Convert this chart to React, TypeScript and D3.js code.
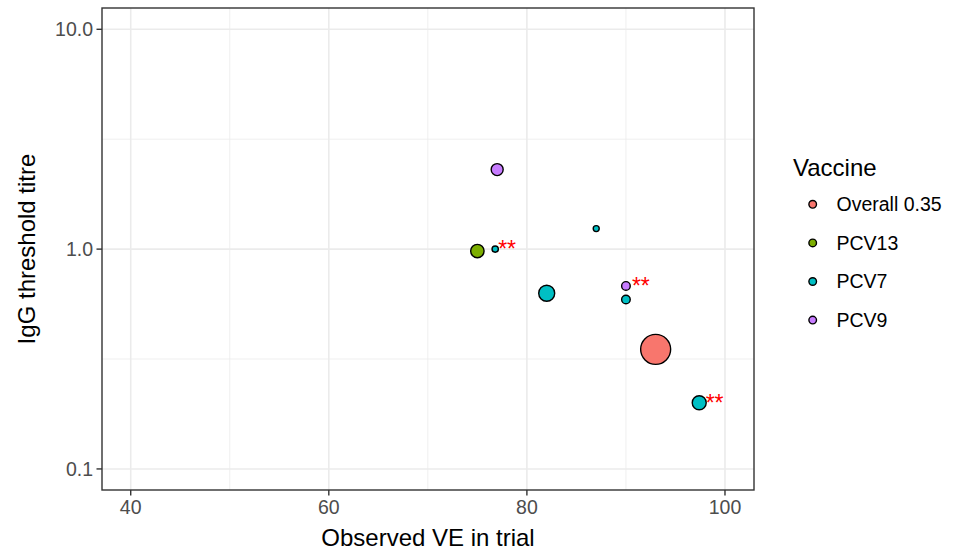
import React from 'react';
import * as d3 from 'd3';

const vaccines = ['Overall 0.35', 'PCV13', 'PCV7', 'PCV9'];
const vaccineColors = ['#F8766D', '#7CAE00', '#00BFC4', '#C77CFF'];

const pointVaccine = ['PCV9', 'PCV13', 'PCV7', 'PCV7', 'PCV7', 'PCV9', 'PCV7', 'Overall 0.35', 'PCV7'];
const pointVE = [77.0, 75.0, 76.8, 87.0, 82.0, 90.0, 90.0, 93.0, 97.4];
const pointIgG = [2.3, 0.98, 1.0, 1.24, 0.63, 0.68, 0.59, 0.35, 0.2];
const pointWeight = [36, 45, 10, 9, 64, 18.5, 18.5, 225, 49];

const starVE = [77.1, 90.6, 98.05];
const starIgG = [1.0, 0.68, 0.2];
const starText = ['**', '**', '**'];

const xTicks = [40, 60, 80, 100];
const xMinor = [50, 70, 90];
const yTicks = [0.1, 1, 10];
const yTickLabels = ['0.1', '1.0', '10.0'];
const yMinor = [Math.sqrt(0.1 * 1), Math.sqrt(1 * 10)];

const W = 954, H = 550;
const panel = { left: 102, right: 754, top: 8, bottom: 490 };
const font = '"Liberation Sans", Arial, Helvetica, sans-serif';

export default function App() {
  const x = d3.scaleLinear().domain([37.1, 102.93]).range([panel.left, panel.right]);
  const y = d3.scaleLog().domain([0.0802, 12.5]).range([panel.bottom, panel.top]);
  const r = d3.scaleSqrt().domain([0, 225]).range([0, 15]);
  const color = d3.scaleOrdinal<string, string>().domain(vaccines).range(vaccineColors);
  const pw = panel.right - panel.left, ph = panel.bottom - panel.top;

  return (
    <svg width={W} height={H} style={{ position: 'absolute', left: 0, top: 0, background: '#fff' }} fontFamily={font}>
      <rect x={0} y={0} width={W} height={H} fill="#fff" />
      <rect x={panel.left} y={panel.top} width={pw} height={ph} fill="#fff" />
      {xMinor.map((v) => (
        <line key={'xm' + v} x1={x(v)} x2={x(v)} y1={panel.top} y2={panel.bottom} stroke="#EBEBEB" strokeWidth={0.8} />
      ))}
      {yMinor.map((v) => (
        <line key={'ym' + v} x1={panel.left} x2={panel.right} y1={y(v)} y2={y(v)} stroke="#EBEBEB" strokeWidth={0.8} />
      ))}
      {xTicks.map((v) => (
        <line key={'xg' + v} x1={x(v)} x2={x(v)} y1={panel.top} y2={panel.bottom} stroke="#EBEBEB" strokeWidth={1.6} />
      ))}
      {yTicks.map((v) => (
        <line key={'yg' + v} x1={panel.left} x2={panel.right} y1={y(v)} y2={y(v)} stroke="#EBEBEB" strokeWidth={1.6} />
      ))}
      {pointVE.map((v, i) => (
        <circle
          key={'p' + i}
          cx={x(v)}
          cy={y(pointIgG[i])}
          r={r(pointWeight[i])}
          fill={color(pointVaccine[i])}
          stroke="#000"
          strokeWidth={1.4}
        />
      ))}
      {starVE.map((v, i) => (
        <text key={'s' + i} x={x(v)} y={y(starIgG[i]) + 8} fill="#FF0000" fontSize={23} textAnchor="start">
          {starText[i]}
        </text>
      ))}
      <rect x={panel.left} y={panel.top} width={pw} height={ph} fill="none" stroke="#333333" strokeWidth={1.4} />
      {xTicks.map((v) => (
        <g key={'xt' + v}>
          <line x1={x(v)} x2={x(v)} y1={panel.bottom} y2={panel.bottom + 5.5} stroke="#333333" strokeWidth={1.4} />
          <text x={x(v)} y={panel.bottom + 24} textAnchor="middle" fontSize={19.5} fill="#4D4D4D">
            {v}
          </text>
        </g>
      ))}
      {yTicks.map((v, i) => (
        <g key={'yt' + v}>
          <line x1={panel.left - 5.5} x2={panel.left} y1={y(v)} y2={y(v)} stroke="#333333" strokeWidth={1.4} />
          <text x={panel.left - 9} y={y(v)} dy="0.35em" textAnchor="end" fontSize={19.5} fill="#4D4D4D">
            {yTickLabels[i]}
          </text>
        </g>
      ))}
      <text x={(panel.left + panel.right) / 2} y={546} textAnchor="middle" fontSize={24} fill="#000">
        Observed VE in trial
      </text>
      <text
        transform={`translate(35,${(panel.top + panel.bottom) / 2}) rotate(-90)`}
        textAnchor="middle"
        fontSize={24}
        fill="#000"
      >
        IgG threshold titre
      </text>
      <text x={793} y={176} fontSize={24} fill="#000">
        Vaccine
      </text>
      {vaccines.map((v, i) => {
        const cy = 204.3 + i * 38.6;
        return (
          <g key={'l' + v}>
            <circle cx={812.7} cy={cy} r={3.8} fill={color(v)} stroke="#000" strokeWidth={1.4} />
            <text x={836.5} y={cy} dy="0.35em" fontSize={19.5} fill="#000">
              {v}
            </text>
          </g>
        );
      })}
    </svg>
  );
}
